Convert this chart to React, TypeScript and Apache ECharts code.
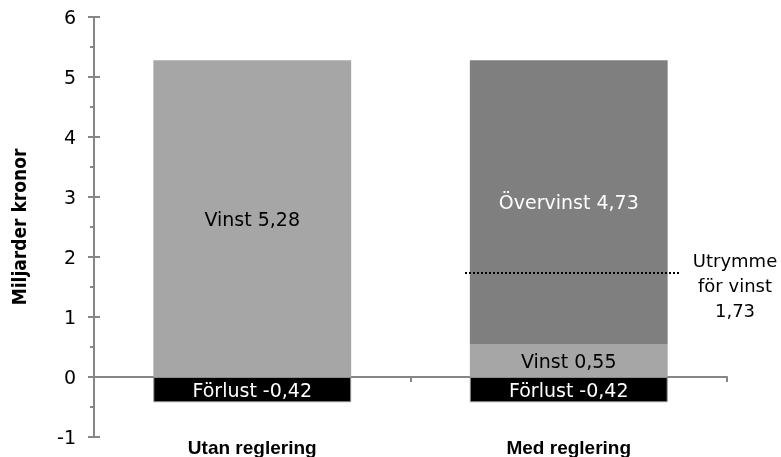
import React, { useEffect, useRef } from "react";
import * as echarts from "echarts";

const categories = ["Utan reglering", "Med reglering"];
const forlust = [-0.42, -0.42];
const vinst = [5.28, 0.55];
const overvinst: (number | null)[] = [null, 4.73];
const utrymme = 1.73;
const yMin = -1;
const yMax = 6;
const yInterval = 1;
const yTitle = "Miljarder kronor";

const fmt = (v: number) => v.toFixed(2).replace(".", ",");
const FONT = "DejaVu Sans";
const BOLD = "DejaVu Sans Condensed";
const AXIS = "#868686";

export default function App() {
  const ref = useRef<HTMLDivElement>(null);
  useEffect(() => {
    if (!ref.current) return;
    const chart = echarts.init(ref.current, undefined, { renderer: "svg" });
    const labelBase = {
      show: true,
      position: "inside",
      fontFamily: FONT,
      fontSize: 19,
    };
    chart.setOption({
      animation: false,
      grid: { left: 94, right: 54, top: 17, bottom: 20, outerBoundsMode: "none", containLabel: false },
      xAxis: [
        {
          type: "category",
          data: categories,
          axisLine: { onZero: true, lineStyle: { color: AXIS, width: 2 } },
          axisTick: { show: true, length: 5, lineStyle: { color: AXIS, width: 2 } },
          axisLabel: { show: false },
        },
        {
          type: "category",
          data: categories,
          position: "bottom",
          axisLine: { show: false, onZero: false },
          axisTick: { show: false },
          axisLabel: {
            show: true,
            margin: 1,
            color: "#000",
            fontFamily: "Liberation Sans",
            fontWeight: "bold",
            fontSize: 19,
          },
        },
      ],
      yAxis: [
        {
          type: "value",
          min: yMin,
          max: yMax,
          interval: yInterval,
          name: yTitle,
          nameLocation: "middle",
          nameRotate: 90,
          nameGap: 66,
          nameMoveOverlap: false,
          nameTextStyle: {
            fontFamily: BOLD,
            fontWeight: "bold",
            fontSize: 19,
            color: "#000",
          },
          axisLine: { show: true, lineStyle: { color: AXIS, width: 2 } },
          axisTick: { show: true, length: 6, lineStyle: { color: AXIS, width: 2 } },
          minorTick: { show: true, splitNumber: 2, length: 4, lineStyle: { color: AXIS, width: 2 } },
          splitLine: { show: false },
          axisLabel: { margin: 18, color: "#000", fontFamily: FONT, fontSize: 19 },
        },
        {
          type: "value",
          min: yMin,
          max: yMax,
          interval: yInterval,
          position: "left",
          axisLine: { show: false },
          axisTick: { show: true, inside: true, length: 6, lineStyle: { color: AXIS, width: 2 } },
          splitLine: { show: false },
          axisLabel: { show: false },
        },
      ],
      series: [
        {
          name: "Förlust",
          type: "bar",
          stack: "a",
          data: forlust,
          barCategoryGap: "37.5%",
          itemStyle: { color: "#000", borderColor: "#8a8a8a", borderWidth: 1 },
          label: { ...labelBase, color: "#fff", formatter: (p: any) => `Förlust ${fmt(p.value)}` },
        },
        {
          name: "Vinst",
          type: "bar",
          stack: "a",
          data: vinst,
          itemStyle: { color: "#a6a6a6" },
          label: { ...labelBase, color: "#000", formatter: (p: any) => `Vinst ${fmt(p.value)}` },
        },
        {
          name: "Övervinst",
          type: "bar",
          stack: "a",
          data: overvinst,
          itemStyle: { color: "#7f7f7f" },
          label: { ...labelBase, color: "#fff", formatter: (p: any) => `Övervinst ${fmt(p.value)}` },
          markLine: {
            silent: true,
            symbol: ["none", "none"],
            lineStyle: { type: [2, 2], color: "#000", width: 2 },
            label: {
              show: true,
              position: "end",
              distance: 54,
              align: "center",
              verticalAlign: "middle",
              lineHeight: 25,
              fontFamily: FONT,
              fontSize: 18,
              color: "#000",
              formatter: () => `\nUtrymme\nför vinst\n${fmt(utrymme)}`,
            },
            data: [[{ yAxis: utrymme, x: 465 }, { yAxis: utrymme, x: 681 }]],
          },
        },
      ],
    });
    return () => chart.dispose();
  }, []);
  return (
    <div
      ref={ref}
      style={{ position: "fixed", left: 0, top: 0, width: 781, height: 457 }}
    />
  );
}
